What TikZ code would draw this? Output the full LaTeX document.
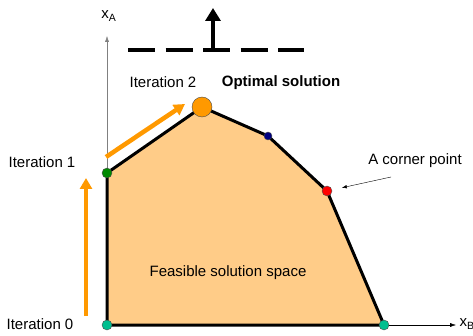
\documentclass[tikz,border=0pt]{standalone}
\usepackage{fontspec}
\setmainfont{Liberation Sans}
\usepackage{xcolor}
\usepackage{tikz}
\usetikzlibrary{positioning, arrows.meta}

\definecolor{regionfill}{HTML}{FFCC88}
\definecolor{iterorange}{HTML}{FF9900}
\definecolor{dotteal}{HTML}{00BF8F}
\definecolor{dotgreen}{HTML}{008A00}
\definecolor{dotblue}{HTML}{000080}
\definecolor{dotred}{HTML}{FF0000}

\begin{document}
\begin{tikzpicture}[x=1pt, y=-1pt, font=\fontsize{15}{18}\selectfont,
    corner/.style={circle, draw=black!70, inner sep=0pt, minimum size=10pt},
    iterarrow/.style={iterorange, line width=4.5pt, -{Triangle[width=12pt, length=11pt]}},
    axisarrow/.style={-{Latex[length=6pt, width=4pt]}}]
      \useasboundingbox (0,0) rectangle (473,336);

      % Corners
      \coordinate (c0) at (107,325);
      \coordinate (c1) at (107,173);
      \coordinate (c2) at (202,107);
      \coordinate (c3) at (268,136);
      \coordinate (c4) at (327,191);
      \coordinate (c5) at (384,325);

      % Feasible region
      \fill[regionfill] (c0) -- (c1) -- (c2) -- (c3) -- (c4) -- (c5) -- cycle;

      % Axes
      \coordinate (xend) at (456,325);
      \coordinate (yend) at (107,36);
      \draw[gray, axisarrow] (c0) -- (yend);
      \draw[axisarrow] (c0) -- (xend);
      \node (xA) at (109,16) {x\textsubscript{A}};
      \node[right=0pt of xend, yshift=1pt] (xB) {x\textsubscript{B}};

      % Boundary
      \draw[line width=3pt, line join=round] (c0) -- (c1) -- (c2) -- (c3) -- (c4) -- (c5) -- cycle;

      % Corner points
      \node[corner, fill=dotteal] (p0) at (c0) {};
      \node[corner, fill=dotgreen] (p1) at (c1) {};
      \node[corner, fill=iterorange, minimum size=20pt] (p2) at (c2) {};
      \node[corner, fill=dotblue, minimum size=8pt] (p3) at (c3) {};
      \node[corner, fill=dotred] (p4) at (c4) {};
      \node[corner, fill=dotteal] (p5) at (c5) {};

      % Iterations
      \coordinate (a0) at (86,316);
      \coordinate (a1) at (86,178);
      \coordinate (a2) at (106,157);
      \coordinate (a3) at (185,104);
      \draw[iterarrow] (a0) -- (a1);
      \draw[iterarrow] (a2) -- (a3);

      \node (it0) at (40,324) {Iteration 0};
      \node (it1) at (42,162) {Iteration 1};
      \node (it2) at (163,82) {Iteration 2};
      \node (opt) at (281,83) {\bfseries Optimal solution};

      % Corner label
      \node (cornerlbl) at (415,161) {A corner point};
      \coordinate (ptr) at (391,177);
      \draw[-{Latex[length=5pt, width=3.5pt]}, thin] (ptr) -- (p4) [shorten >=10pt];

      \node (feas) at (228,273) {Feasible solution space};

      % Objective function
      \coordinate (obj1) at (128,50);
      \coordinate (obj2) at (304,50);
      \coordinate (objbase) at (213,50);
      \coordinate (objtip) at (213,8);
      \draw[line width=4pt, dash pattern=on 27pt off 10.5pt] (obj1) -- (obj2);
      \draw[line width=4pt, -{Triangle[width=15pt, length=13pt]}] (objbase) -- (objtip);
    \end{tikzpicture}
\end{document}
